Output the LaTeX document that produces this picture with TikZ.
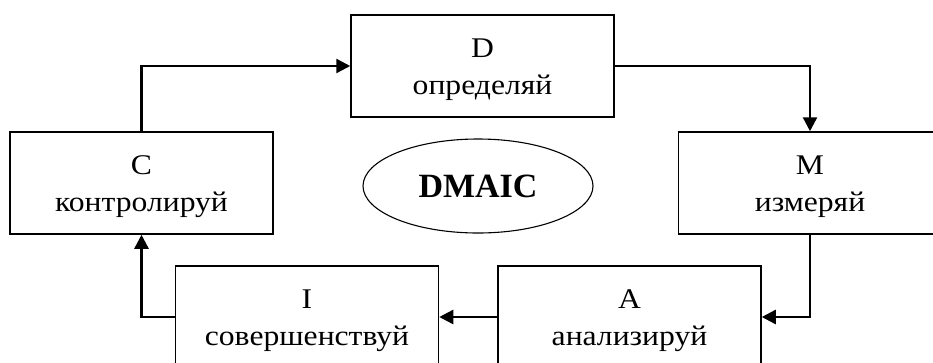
\documentclass[tikz,border=0pt]{standalone}
\usepackage{fontspec}
\setmainfont{Liberation Serif}
\newfontfamily\stagefont[FakeStretch=1.11]{Liberation Serif}
\usetikzlibrary{arrows.meta,shapes.geometric}

% first line of each stage box sits a little lower than a plain centred block
\newcommand{\stagelabel}[2]{\rule{0pt}{26pt}#1\\#2}

\tikzset{
  stagebox/.style={draw, line width=1.5pt, minimum width=263pt, minimum height=102pt,
    inner sep=0pt, align=center, font=\stagefont\fontsize{28.5}{37}\selectfont},
  flow/.style={line width=2.4pt, -{Triangle[length=14pt,width=14pt]}},
  hub/.style={draw, ellipse, line width=1.1pt, minimum width=230pt, minimum height=94pt,
    inner sep=0pt, font=\fontsize{34}{40}\selectfont\bfseries}
}

\begin{document}
\begin{tikzpicture}[x=1pt, y=-1pt]
  \useasboundingbox (0,0) rectangle (933,362);
  \clip (0,0) rectangle (933,362);

  % the five stages of the cycle
  \node[stagebox] (D) at (482.5,66)  {\stagelabel{D}{определяй}};
  \node[stagebox] (M) at (810,183)   {\stagelabel{M}{измеряй}};
  \node[stagebox] (A) at (629.5,317) {\stagelabel{A}{анализируй}};
  \node[stagebox] (I) at (307,317)   {\stagelabel{I}{совершенствуй}};
  \node[stagebox] (C) at (141.5,183) {\stagelabel{C}{контролируй}};

  % centre label
  \node[hub] (E) at (478,186) {DMAIC};

  % cycle connectors
  \draw[flow] (C.north) |- (D.west);
  \draw[flow] (D.east) -| (M.north);
  \draw[flow] (M.south) |- (A.east);
  \draw[flow] (A.west) -- (I.east);
  \draw[flow] (I.west) -| (C.south);
\end{tikzpicture}
\end{document}
